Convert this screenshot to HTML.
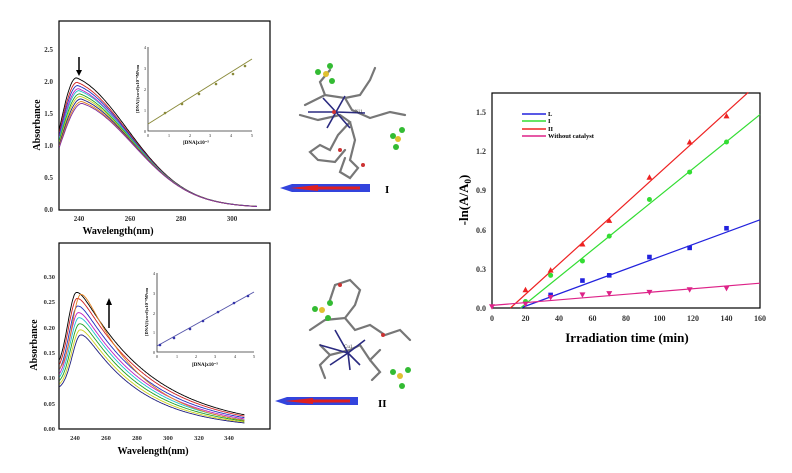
<!DOCTYPE html>
<html><head><meta charset="utf-8"><style>
html,body{margin:0;padding:0;background:#fff;}
svg{display:block;font-family:"Liberation Serif",serif;}
</style></head><body>
<svg id="s" width="792" height="473" viewBox="0 0 792 473" xmlns="http://www.w3.org/2000/svg">
<rect width="792" height="473" fill="#fff"/>
<rect x="59" y="21" width="211" height="189" fill="none" stroke="#000" stroke-width="1.2"/>
<g font-size="7" font-weight="bold" fill="#333" text-anchor="end">
<text x="53" y="212">0.0</text><text x="53" y="180">0.5</text><text x="53" y="148">1.0</text><text x="53" y="116">1.5</text><text x="53" y="84">2.0</text><text x="53" y="52">2.5</text>
</g>
<g font-size="7" font-weight="bold" fill="#333" text-anchor="middle">
<text x="79" y="221">240</text><text x="130" y="221">260</text><text x="181" y="221">280</text><text x="232" y="221">300</text>
</g>
<text x="118" y="234" font-size="10" font-weight="bold" text-anchor="middle">Wavelength(nm)</text>
<text transform="translate(40,125) rotate(-90)" font-size="10" font-weight="bold" text-anchor="middle">Absorbance</text>
<line x1="79" y1="57" x2="79" y2="72" stroke="#000" stroke-width="1.5"/><polygon points="76,70 82,70 79,76" fill="#000"/>
<g id="top"></g>
<g stroke="#333" stroke-width="0.8" fill="none"><polyline points="148,47 148,131 252,131"/></g>
<line x1="148" y1="124" x2="252" y2="59" stroke="#8a8a3a" stroke-width="1"/>
<g fill="#8a8a3a"><circle cx="165" cy="113" r="1.3"/><circle cx="182" cy="104" r="1.3"/><circle cx="199" cy="94" r="1.3"/><circle cx="216" cy="84" r="1.3"/><circle cx="233" cy="74" r="1.3"/><circle cx="245" cy="66" r="1.3"/></g>
<g font-size="4.5" fill="#333" text-anchor="middle"><text x="148" y="137">0</text><text x="169" y="137">1</text><text x="190" y="137">2</text><text x="210" y="137">3</text><text x="231" y="137">4</text><text x="252" y="137">5</text>
<text x="145" y="133">0</text><text x="145" y="112">1</text><text x="145" y="91">2</text><text x="145" y="70">3</text><text x="145" y="49">4</text></g>
<text x="196" y="144" font-size="5" font-weight="bold" text-anchor="middle">[DNA]x10⁻⁵</text>
<text transform="translate(139,89) rotate(-90)" font-size="4.5" font-weight="bold" text-anchor="middle">[DNA]/(εa-εf)x10⁻⁸M²cm</text>

<rect x="59" y="243" width="211" height="186" fill="none" stroke="#000" stroke-width="1.2"/>
<g font-size="6.5" font-weight="bold" fill="#333" text-anchor="end">
<text x="55" y="431">0.00</text><text x="55" y="406">0.05</text><text x="55" y="380">0.10</text><text x="55" y="355">0.15</text><text x="55" y="330">0.20</text><text x="55" y="304">0.25</text><text x="55" y="279">0.30</text>
</g>
<g font-size="6.5" font-weight="bold" fill="#333" text-anchor="middle">
<text x="75" y="440">240</text><text x="106" y="440">260</text><text x="137" y="440">280</text><text x="168" y="440">300</text><text x="199" y="440">320</text><text x="229" y="440">340</text>
</g>
<text x="153" y="454" font-size="10" font-weight="bold" text-anchor="middle">Wavelength(nm)</text>
<text transform="translate(37,345) rotate(-90)" font-size="10" font-weight="bold" text-anchor="middle">Absorbance</text>
<line x1="109" y1="328" x2="109" y2="303" stroke="#000" stroke-width="1.5"/><polygon points="106,305 112,305 109,298" fill="#000"/>
<g id="bot"></g>
<g stroke="#333" stroke-width="0.8" fill="none"><polyline points="157,273 157,352 254,352"/></g>
<line x1="157" y1="346" x2="254" y2="292" stroke="#5555aa" stroke-width="1"/>
<g fill="#3333aa"><circle cx="160" cy="345" r="1.3"/><circle cx="174" cy="338" r="1.3"/><circle cx="190" cy="329" r="1.3"/><circle cx="203" cy="321" r="1.3"/><circle cx="218" cy="312" r="1.3"/><circle cx="234" cy="303" r="1.3"/><circle cx="248" cy="296" r="1.3"/></g>
<g font-size="4.5" fill="#333" text-anchor="middle"><text x="157" y="358">0</text><text x="177" y="358">1</text><text x="196" y="358">2</text><text x="215" y="358">3</text><text x="235" y="358">4</text><text x="254" y="358">5</text>
<text x="154" y="354">0</text><text x="154" y="334">1</text><text x="154" y="315">2</text><text x="154" y="295">3</text><text x="154" y="275">4</text></g>
<text x="205" y="366" font-size="5" font-weight="bold" text-anchor="middle">[DNA]x10⁻⁵</text>
<text transform="translate(148,312) rotate(-90)" font-size="4.5" font-weight="bold" text-anchor="middle">[DNA]/(εa-εf)x10⁻⁸M²cm</text>

<g>
<polygon points="280,188 292,184 370,184 370,192 292,192" fill="#3344dd"/>
<polygon points="290,188 318,185 318,186.5 360,186.5 360,189.5 318,189.5 318,191" fill="#e02020"/>
<polygon points="275,401 287,397 358,397 358,405 287,405" fill="#3344dd"/>
<polygon points="285,401 313,398 313,399.5 350,399.5 350,402.5 313,402.5 313,404" fill="#e02020"/>
</g>
<text x="385" y="193" font-size="11" font-weight="bold">I</text>
<text x="378" y="407" font-size="11" font-weight="bold">II</text>
<g stroke="#777" stroke-width="2.2" fill="none" stroke-linecap="round">
<path d="M305,105 L325,95 L345,98 L352,110 L370,118 L390,112 L405,115 M325,95 L320,82 L330,70 M300,115 L318,120 L340,115 L350,122 L338,135 L330,150 L320,145 L310,152 L318,160 L335,162 L345,150 M350,122 L355,140 L350,160 L358,168 L350,178 L340,172 L345,158 M345,98 L360,95 L370,80 L375,68"/>
<path d="M310,330 L325,320 L345,318 L355,330 L370,325 L385,335 L400,330 L410,340 M330,300 L335,285 L350,280 L360,290 L355,305 L345,318 M320,345 L330,355 L350,350 L360,345 L370,360 L380,350 M330,355 L320,365 L325,378 M370,360 L380,372 L372,380"/>
</g>
<g stroke="#2a2a80" stroke-width="1.6" fill="none">
<path d="M336,112 L308,112 M336,112 L365,113 M336,112 L323,98 M336,112 L350,128 M336,112 L327,128 M336,112 L345,96"/>
<path d="M383,353 L355,345 M383,353 L400,340 M383,353 L370,330 M383,353 L365,365 M383,353 L385,370 M383,353 L395,365" transform="translate(-35,0)"/>
</g>
<g fill="#33bb33"><circle cx="318" cy="72" r="3"/><circle cx="330" cy="66" r="3"/><circle cx="332" cy="81" r="3"/><circle cx="393" cy="136" r="3"/><circle cx="402" cy="130" r="3"/><circle cx="396" cy="147" r="3"/>
<circle cx="315" cy="309" r="3"/><circle cx="330" cy="303" r="3"/><circle cx="328" cy="318" r="3"/><circle cx="393" cy="372" r="3"/><circle cx="408" cy="370" r="3"/><circle cx="402" cy="386" r="3"/></g>
<g fill="#e0c030"><circle cx="326" cy="74" r="3"/><circle cx="398" cy="139" r="3"/><circle cx="322" cy="310" r="3"/><circle cx="400" cy="376" r="3"/></g>
<g fill="#cc3333"><circle cx="334" cy="112" r="2"/><circle cx="340" cy="150" r="2"/><circle cx="363" cy="165" r="2"/><circle cx="340" cy="285" r="2"/><circle cx="383" cy="335" r="2"/></g>
<text x="355" y="113" font-size="5" fill="#333">Ni1</text>
<text x="344" y="348" font-size="5" fill="#333">Cu1</text>

<rect x="492" y="93" width="268" height="215" fill="none" stroke="#000" stroke-width="1.2"/>
<g font-size="8" font-weight="bold" fill="#333" text-anchor="end">
<text x="486" y="311">0.0</text><text x="486" y="272">0.3</text><text x="486" y="233">0.6</text><text x="486" y="193">0.9</text><text x="486" y="154">1.2</text><text x="486" y="115">1.5</text>
</g>
<g font-size="8" font-weight="bold" fill="#333" text-anchor="middle">
<text x="492" y="321">0</text><text x="525.5" y="321">20</text><text x="559" y="321">40</text><text x="592.5" y="321">60</text><text x="626" y="321">80</text><text x="659.5" y="321">100</text><text x="693" y="321">120</text><text x="726.5" y="321">140</text><text x="760" y="321">160</text>
</g>
<text x="627" y="342" font-size="13" font-weight="bold" text-anchor="middle">Irradiation time (min)</text>
<text transform="translate(468,200) rotate(-90)" font-size="13" font-weight="bold" text-anchor="middle">-ln(A/A<tspan font-size="9" dy="3">0</tspan><tspan dy="-3">)</tspan></text>
<g id="rc"></g>
<g stroke-width="1.5"><line x1="522" y1="114" x2="546" y2="114" stroke="#2222dd"/><line x1="522" y1="121" x2="546" y2="121" stroke="#33dd33"/><line x1="522" y1="129" x2="546" y2="129" stroke="#ee2222"/><line x1="522" y1="136" x2="546" y2="136" stroke="#dd2288"/></g>
<g font-size="6.5" font-weight="bold"><text x="548" y="116">L</text><text x="548" y="123">I</text><text x="548" y="131">II</text><text x="548" y="138">Without catalyst</text></g>
</svg>
<script>
var NS="http://www.w3.org/2000/svg";
function el(p,t,a){var e=document.createElementNS(NS,t);for(var k in a)e.setAttribute(k,a[k]);document.getElementById(p).appendChild(e);}
var cols=["#000","#d02020","#2030c0","#c020c0","#20c0d0","#20a020","#d0d020","#202080","#e08020","#8030a0","#808020","#40a0a0"];
var tp=[2.05,1.98,1.93,1.88,1.85,1.8,1.76,1.72,1.68,1.65];
tp.forEach(function(p,i){var lp=239+i*0.25,d="";
for(var l=232.3;l<=310;l+=0.5){var D=l-lp,A;
if(D<0)A=p*Math.exp(-(D/(9.5+i*0.3))*(D/(9.5+i*0.3)));else A=p*(0.78*Math.exp(-(D/30)*(D/30))+0.22*Math.exp(-D/28));
var x=79+(l-240)*2.55,y=209-A*64;d+=(d?"L":"M")+x.toFixed(1)+","+y.toFixed(1);}
el("top","path",{d:d,fill:"none",stroke:cols[i],"stroke-width":"0.9"});});
var bp=[0.27,0.258,0.243,0.23,0.22,0.208,0.196,0.186,0.266];
bp.forEach(function(p,i){var k=Math.min(i,7),lp=241+k*0.4,d="",w=46-k*1.3;
for(var l=230;l<=350;l+=0.5){var D=l-lp,A;
if(D<0)A=p*(0.42+0.58*Math.exp(-(D/8)*(D/8)));else{var s=Math.sqrt(D*D+25)-5;A=p*Math.exp(-s/w);}
var x=75+(l-240)*1.54,y=429-A*506;d+=(d?"L":"M")+x.toFixed(1)+","+y.toFixed(1);}
el("bot","path",{d:d,fill:"none",stroke:cols[i],"stroke-width":"0.9"});});
function X(t){return 492+t*1.675}function Y(v){return 308-v*130.7}
function ln(c,t1,v1,t2,v2){el("rc","line",{x1:X(t1),y1:Y(v1),x2:X(t2),y2:Y(v2),stroke:c,"stroke-width":"1.2"});}
ln("#2222dd",17,0,160,0.675);ln("#33dd33",17,0,160,1.48);ln("#ee2222",11,0,153,1.65);ln("#dd2288",0,0.02,160,0.19);
var T=[20,35,54,70,94,118,140];
[0.14,0.29,0.49,0.67,1.0,1.27,1.47].forEach(function(v,i){var x=X(T[i]),y=Y(v);el("rc","polygon",{points:(x-3)+","+(y+2.5)+" "+(x+3)+","+(y+2.5)+" "+x+","+(y-3),fill:"#ee2222"});});
[0.05,0.25,0.36,0.55,0.83,1.04,1.27].forEach(function(v,i){el("rc","circle",{cx:X(T[i]),cy:Y(v),r:2.5,fill:"#33dd33"});});
[0.03,0.1,0.21,0.25,0.39,0.46,0.61].forEach(function(v,i){if(i>0)el("rc","rect",{x:X(T[i])-2.3,y:Y(v)-2.3,width:4.6,height:4.6,fill:"#2222dd"});});
[[0,0.01],[20,0.03],[35,0.08],[54,0.1],[70,0.11],[94,0.12],[118,0.14],[140,0.15]].forEach(function(p){var x=X(p[0]),y=Y(p[1]);el("rc","polygon",{points:(x-3)+","+(y-2.5)+" "+(x+3)+","+(y-2.5)+" "+x+","+(y+3),fill:"#dd2288"});});
</script>
</body></html>
